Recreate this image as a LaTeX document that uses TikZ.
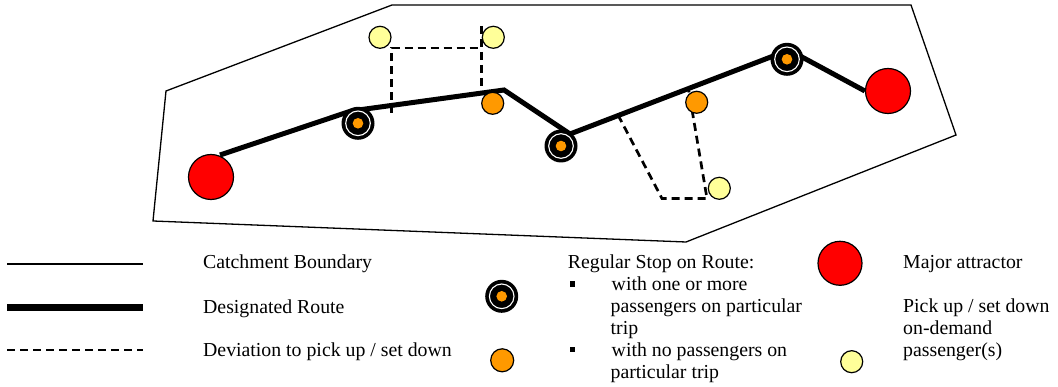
\documentclass[tikz,border=0pt]{standalone}
\usepackage{fontspec}
\setmainfont{Liberation Serif}
\begin{document}
\begin{tikzpicture}[x=1pt,y=-1pt,
  boundary/.style={line width=1.3pt},
  route/.style={line width=5pt},
  deviation/.style={line width=2.7pt, dash pattern=on 8pt off 5pt},
  attractor/.style={circle, draw=black, line width=1.2pt, fill=red, minimum size=45pt, inner sep=0pt},
  plainstop/.style={circle, draw=black, line width=1.2pt, fill=stoporange, minimum size=22pt, inner sep=0pt},
  demand/.style={circle, draw=black, line width=1.2pt, fill=demandyellow, minimum size=22pt, inner sep=0pt},
  busystop/.style={circle, fill=black, minimum size=33pt, inner sep=0pt,
    path picture={
      \draw[white, line width=1.1pt] (path picture bounding box.center) circle (12.3pt);
      \fill[stoporange] (path picture bounding box.center) circle (5.3pt);
    }},
  label/.style={anchor=base west, inner sep=0pt, font=\fontsize{19.8}{21.9}\selectfont},
  bulletmark/.style={rectangle, fill=black, minimum size=5.5pt, inner sep=0pt}
]
\definecolor{stoporange}{HTML}{FF9900}
\definecolor{demandyellow}{HTML}{FFFF99}
\useasboundingbox (0,0) rectangle (1058,387);

% catchment boundary
\coordinate (b1) at (392,5);
\coordinate (b2) at (911,5);
\coordinate (b3) at (956,135);
\coordinate (b4) at (686,242);
\coordinate (b5) at (153,221);
\coordinate (b6) at (166,91);
\draw[boundary, line join=miter] (b1) -- (b2) -- (b3) -- (b4) -- (b5) -- (b6) -- cycle;

% major attractors
\node[attractor] (lm) at (211,177) {};
\node[attractor] (rm) at (888,91) {};

% designated route
\coordinate (a0) at (220,155);
\coordinate (a1) at (351,111);
\coordinate (a2) at (504,90);
\coordinate (a3) at (570,134);
\coordinate (a4) at (789,50);
\draw[route, line join=miter] (a0) -- (a1) -- (a2) -- (a3) -- (a4) -- (rm.west);

% deviations
\coordinate (d1) at (391.7,113);
\coordinate (d2) at (391.7,48);
\coordinate (d3) at (481.7,48);
\coordinate (d4) at (481.7,26);
\coordinate (d5) at (481.7,93);
\draw[deviation] (d1) -- (d2) -- (d3);
\draw[deviation] (d4) -- (d5);
\coordinate (e1) at (618,115);
\coordinate (e2) at (662,198.5);
\coordinate (e3) at (707,198.5);
\coordinate (e4) at (688.5,89);
\draw[deviation] (e1) -- (e2) -- (e3) -- (e4);

% stops
\node[busystop] (s1) at (358,123.3) {};
\node[busystop] (s2) at (561,146) {};
\node[busystop] (s3) at (787,59.3) {};
\node[plainstop] (o1) at (492.7,103.3) {};
\node[plainstop] (o2) at (696.7,102.3) {};
\node[demand] (y1) at (380,37.3) {};
\node[demand] (y2) at (493.3,37.3) {};
\node[demand] (y3) at (719.3,188.3) {};

% legend: line styles
\coordinate (l1a) at (7,264);
\coordinate (l1b) at (143,264);
\draw[line width=1.5pt] (l1a) -- (l1b);
\coordinate (l2a) at (7,307.3);
\coordinate (l2b) at (143,307.3);
\draw[line width=7pt] (l2a) -- (l2b);
\coordinate (l3a) at (7,350);
\coordinate (l3b) at (143,350);
\draw[line width=2.8pt, dash pattern=on 8pt off 5pt] (l3a) -- (l3b);

\node[label] (t1) at (203,268.3) {Catchment Boundary};
\node[label] (t2) at (203,313.3) {Designated Route};
\node[label] (t3) at (203,356) {Deviation to pick up / set down};

% legend: symbols
\node[busystop] (ls) at (501.7,296.3) {};
\node[plainstop, minimum size=23pt] (lo) at (502.2,360.3) {};
\node[attractor, minimum size=44pt] (lr) at (840,263.3) {};
\node[demand] (ly) at (851.7,361.7) {};

% legend: stop descriptions
\node[label] (t4) at (567.7,268.3) {Regular Stop on Route:};
\node[bulletmark] (m1) at (572.5,284) {};
\node[label] (t5) at (611.5,290.7) {with one or more};
\node[label] (t6) at (610.5,312.5) {passengers on particular};
\node[label] (t7) at (610.5,334.3) {trip};
\node[bulletmark] (m2) at (572.5,349.5) {};
\node[label] (t8) at (611.5,356) {with no passengers on};
\node[label] (t9) at (610.5,378) {particular trip};

\node[label] (t10) at (903,268.3) {Major attractor};
\node[label] (t11) at (903,312.5) {Pick up / set down};
\node[label] (t12) at (903,334.3) {on-demand};
\node[label] (t13) at (903,356) {passenger(s)};
\end{tikzpicture}
\end{document}
